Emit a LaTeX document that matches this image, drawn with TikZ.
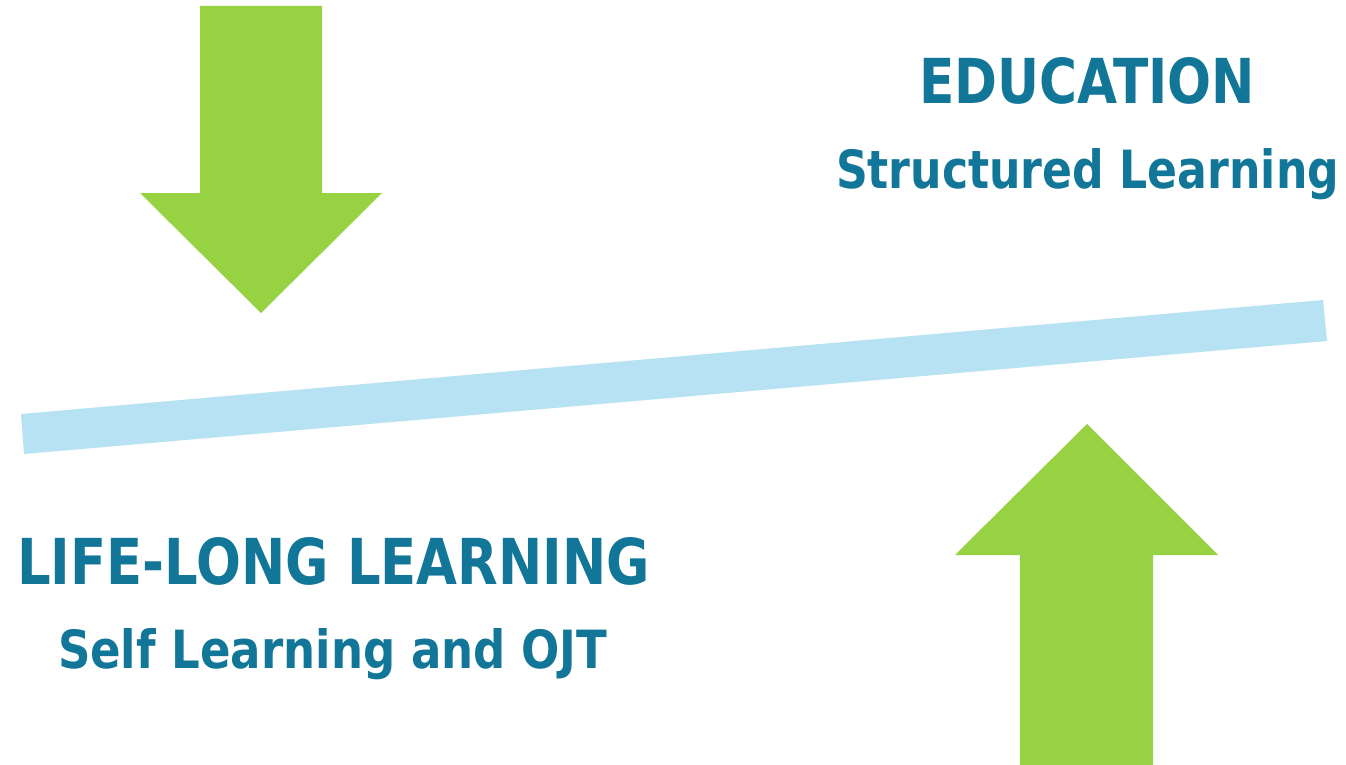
\documentclass[tikz,border=0pt]{standalone}
\usepackage{fontspec}
\setmainfont{DejaVu Sans}
\usepackage{graphicx}
\definecolor{arrowgreen}{RGB}{151,210,67}
\definecolor{barblue}{RGB}{183,226,244}
\definecolor{teal}{RGB}{18,118,152}
\begin{document}
\begin{tikzpicture}[x=1pt,y=-1pt,
  arrowshape/.style={fill=arrowgreen,draw=none},
  barshape/.style={fill=barblue,draw=none},
  label/.style={anchor=base west,inner sep=0pt,outer sep=0pt,text=teal,font=\bfseries}]
\useasboundingbox (0,0) rectangle (1346,765);
\fill[white] (0,0) rectangle (1346,765);
% balance bar
\fill[barshape] (21,414) -- (1323,300) -- (1327,341) -- (24,454) -- cycle;
% down arrow
\fill[arrowshape] (200,6) -- (322,6) -- (322,193) -- (382,193) -- (261,313) -- (140,193) -- (200,193) -- cycle;
% up arrow
\fill[arrowshape] (1020,765) -- (1020,555) -- (955,555) -- (1087,424) -- (1218,555) -- (1153,555) -- (1153,765) -- cycle;
% texts
\node[label] (edu) at (919,104) {\resizebox{336pt}{46pt}{EDUCATION}};
\node[label] (struct) at (836,188) {\resizebox{503pt}{40pt}{Structured Learning}};
\node[label] (life) at (17,584) {\resizebox{633pt}{47pt}{LIFE-LONG LEARNING}};
\node[label] (self) at (58,668) {\resizebox{549pt}{40pt}{Self Learning and OJT}};
\end{tikzpicture}
\end{document}
